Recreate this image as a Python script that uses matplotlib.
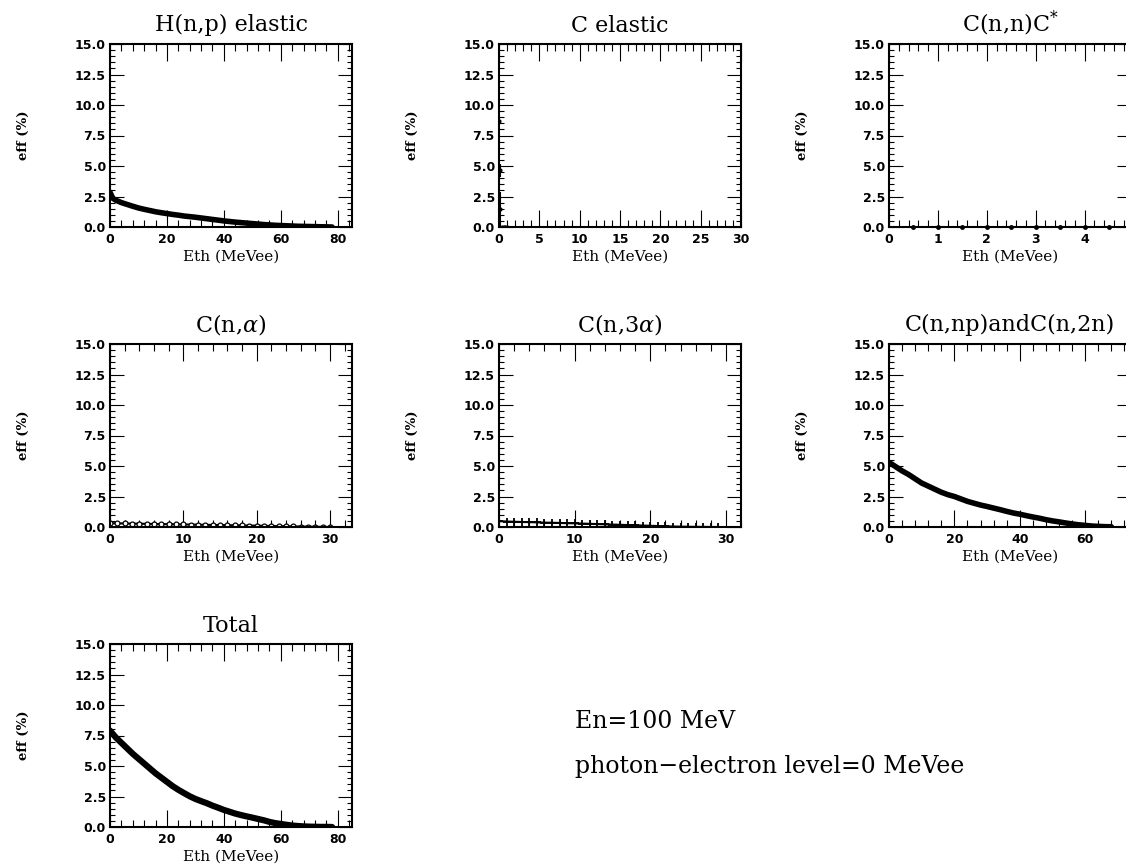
import matplotlib
matplotlib.use("Agg")
import matplotlib.pyplot as plt
from matplotlib.ticker import MultipleLocator, FormatStrFormatter

plt.rcParams['mathtext.fontset'] = 'dejavuserif'

# H(n,p) elastic
h_x = [0, 1, 2, 4, 6, 8, 10, 12, 14, 16, 18, 20, 22, 24, 26, 28, 30, 32, 34, 36, 38,
       40, 42, 44, 46, 48, 50, 52, 54, 56, 58, 60, 62, 64, 66, 68, 70, 72, 74, 76, 78]
h_y = [2.85, 2.35, 2.2, 2.0, 1.85, 1.7, 1.56, 1.45, 1.35, 1.25, 1.17, 1.1, 1.03, 0.97,
       0.9, 0.85, 0.8, 0.74, 0.68, 0.62, 0.56, 0.5, 0.45, 0.4, 0.36, 0.32, 0.28, 0.24,
       0.2, 0.17, 0.14, 0.12, 0.1, 0.08, 0.06, 0.05, 0.04, 0.03, 0.02, 0.01, 0.0]

# C elastic (only a few points near zero)
ce_x = [0.05, 0.1, 0.15, 0.4, 0.6, 0.8, 1.0]
ce_y = [8.7, 4.65, 1.45, 0.0, 0.0, 0.0, 0.0]
ce_err = [0.0, 0.55, 1.45, 0.0, 0.0, 0.0, 0.0]

# C(n,n)C*
cs_x = [0.5, 1.0, 1.5, 2.0, 2.5, 3.0, 3.5, 4.0, 4.5]
cs_y = [0.0, 0.0, 0.0, 0.0, 0.0, 0.0, 0.0, 0.0, 0.0]

# C(n,alpha)
ca_x = list(range(0, 31))
ca_y = [0.32, 0.3, 0.29, 0.28, 0.27, 0.26, 0.25, 0.24, 0.23, 0.22, 0.21, 0.2, 0.19,
        0.18, 0.17, 0.16, 0.15, 0.14, 0.13, 0.12, 0.11, 0.1, 0.08, 0.07, 0.06, 0.05,
        0.04, 0.03, 0.02, 0.01, 0.0]

# C(n,3alpha)
c3_x = list(range(0, 30))
c3_y = [0.48, 0.45, 0.43, 0.41, 0.4, 0.38, 0.36, 0.35, 0.33, 0.31, 0.3, 0.28, 0.26,
        0.24, 0.22, 0.2, 0.18, 0.16, 0.14, 0.12, 0.1, 0.08, 0.06, 0.04, 0.03, 0.02,
        0.01, 0.01, 0.0, 0.0]

# C(n,np) and C(n,2n)
np_x = [0, 2, 4, 6, 8, 10, 12, 14, 16, 18, 20, 22, 24, 26, 28, 30, 32, 34, 36, 38,
        40, 42, 44, 46, 48, 50, 52, 54, 56, 58, 60, 62, 64, 66, 68]
np_y = [5.3, 4.95, 4.6, 4.3, 3.95, 3.6, 3.35, 3.1, 2.85, 2.65, 2.5, 2.3, 2.1, 1.95,
        1.8, 1.68, 1.55, 1.42, 1.28, 1.15, 1.05, 0.93, 0.82, 0.72, 0.6, 0.5, 0.42,
        0.33, 0.25, 0.18, 0.13, 0.08, 0.05, 0.03, 0.02]

# Total
tot_x = [0, 2, 4, 6, 8, 10, 12, 14, 16, 18, 20, 22, 24, 26, 28, 30, 32, 34, 36, 38,
         40, 42, 44, 46, 48, 50, 52, 54, 56, 58, 60, 62, 64, 66, 68, 70, 72, 74, 76, 78]
tot_y = [7.9, 7.35, 6.9, 6.45, 6.0, 5.6, 5.2, 4.8, 4.4, 4.05, 3.7, 3.35, 3.05, 2.78,
         2.52, 2.3, 2.12, 1.95, 1.75, 1.58, 1.4, 1.25, 1.1, 0.98, 0.87, 0.77, 0.66,
         0.55, 0.42, 0.32, 0.25, 0.18, 0.12, 0.08, 0.05, 0.03, 0.02, 0.01, 0.01, 0.0]

W, H = 1126, 866
fig = plt.figure(figsize=(W / 100, H / 100), dpi=100)


def make_ax(left, top, title, xmax, xmaj, xmin):
    ax = fig.add_axes([left / W, 1 - (top + 183) / H, 242 / W, 183 / H])
    ax.set_xlim(0, xmax)
    ax.set_ylim(0, 15)
    ax.xaxis.set_major_locator(MultipleLocator(xmaj))
    ax.xaxis.set_minor_locator(MultipleLocator(xmin))
    ax.yaxis.set_major_locator(MultipleLocator(2.5))
    ax.yaxis.set_minor_locator(MultipleLocator(0.5))
    ax.yaxis.set_major_formatter(FormatStrFormatter('%.1f'))
    ax.tick_params(which='both', direction='in', top=True, right=True, width=0.8)
    ax.tick_params(axis='x', which='major', length=12, pad=4)
    ax.tick_params(axis='x', which='minor', length=5)
    ax.tick_params(axis='y', which='major', length=10, pad=3)
    ax.tick_params(axis='y', which='minor', length=3.6)
    for lab in ax.get_xticklabels() + ax.get_yticklabels():
        lab.set_fontweight('bold')
        lab.set_fontsize(9)
    for s in ax.spines.values():
        s.set_linewidth(1.5)
    ax.set_title(title, family='DejaVu Serif', fontsize=16, pad=9)
    ax.set_xlabel('Eth (MeVee)', family='DejaVu Serif', fontsize=11)
    ax.set_ylabel('eff (%)', family='DejaVu Serif', fontsize=9.5, fontweight='bold')
    ax.yaxis.set_label_coords(-0.33, 0.5)
    ax.xaxis.set_label_coords(0.5, -0.125)
    return ax


ax1 = make_ax(110, 44, 'H(n,p) elastic', 85, 20, 4)
ax1.plot(h_x, h_y, color='black', lw=4, solid_capstyle='round')

ax2 = make_ax(499, 44, 'C elastic', 30, 5, 1)
ax2.errorbar(ce_x, ce_y, yerr=ce_err, fmt='o', ms=2, color='black', elinewidth=1.5, capsize=0)

ax3 = make_ax(889, 44, 'C(n,n)C$^{*}$', 4.95, 1, 0.2)
ax3.plot(cs_x, cs_y, 'o', ms=2.5, color='black', clip_on=False)

ax4 = make_ax(110, 344, r'C(n,$\alpha$)', 33, 10, 2)
ax4.plot(ca_x, ca_y, color='black', lw=1.5)
ax4.plot(ca_x, ca_y, 'o', ms=3.5, mfc='white', mec='black', mew=0.9)

ax5 = make_ax(499, 344, r'C(n,3$\alpha$)', 32, 10, 2)
ax5.plot(c3_x, c3_y, color='black', lw=1.5)
ax5.plot(c3_x, c3_y, '+', ms=6, color='black', mew=1.3)

ax6 = make_ax(889, 344, 'C(n,np)andC(n,2n)', 74, 20, 4)
ax6.plot(np_x, np_y, color='black', lw=4, solid_capstyle='round')

ax7 = make_ax(110, 644, 'Total', 85, 20, 4)
ax7.plot(tot_x, tot_y, color='black', lw=4.5, solid_capstyle='round')

fig.text(575 / W, 1 - 722 / H, 'En=100 MeV', family='DejaVu Serif', fontsize=17,
         va='center', ha='left')
fig.text(575 / W, 1 - 767 / H, 'photon\u2212electron level=0 MeVee', family='DejaVu Serif',
         fontsize=17, va='center', ha='left')

fig.savefig('out.png', dpi=100)
